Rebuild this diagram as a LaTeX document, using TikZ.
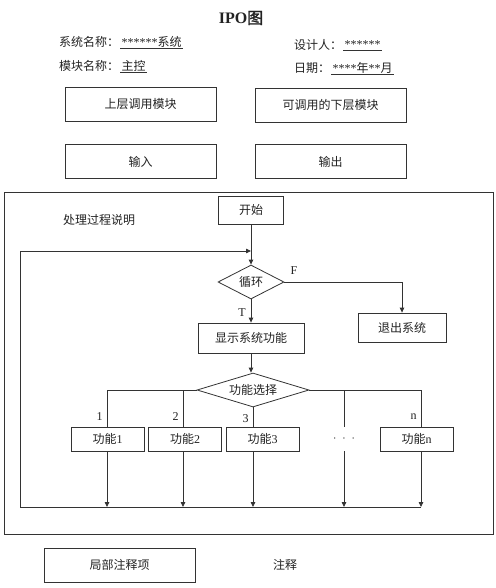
\documentclass[tikz,border=0pt]{standalone}
\usepackage{fontspec}
\setmainfont{Liberation Serif}
\newfontfamily\zhfont[AutoFakeBold=2]{Noto Sans CJK SC}
\usetikzlibrary{arrows.meta,positioning,shapes.geometric}
\newcommand{\zh}[1]{{\zhfont #1}}
\definecolor{cLine}{HTML}{333333}
\definecolor{cText}{HTML}{222222}
\tikzset{
  txt/.style={font=\fontsize{12}{14}\selectfont, text=cText, inner sep=1pt},
  rbox/.style={txt, draw=cLine, line width=0.8pt, minimum width=151pt, minimum height=34pt},
  fbox/.style={txt, draw=cLine, line width=0.8pt, minimum width=73pt, minimum height=24pt},
  cond/.style={txt, diamond, draw=cLine, line width=0.8pt, inner sep=0pt},
  uline/.style={draw=cLine, line width=0.6pt},
  link/.style={draw=cLine, line width=0.8pt},
  flow/.style={link, -{Triangle[length=5pt, width=4.5pt]}},
  tag/.style={txt, inner sep=2pt},
}

\begin{document}
\begin{tikzpicture}[x=1pt, y=-1pt]
    \useasboundingbox (0,0) rectangle (495,588);
    % --- header ---
    \node[txt, font=\fontsize{16}{18}\selectfont\bfseries] (title) at (241,18) {IPO\zh{\bfseries 图}};
    \node[txt, anchor=west] (sysl) at (58,42) {\zh{系统名称：}};
    \node[txt, right=0pt of sysl] (sysv) {******\zh{系统}};
    \node[txt, anchor=west] (modl) at (58,66) {\zh{模块名称：}};
    \node[txt, right=0pt of modl] (modv) {\zh{主控}};
    \node[txt, anchor=west] (desl) at (293,45) {\zh{设计人：}};
    \node[txt, right=0pt of desl] (desv) {******};
    \node[txt, anchor=west] (datl) at (293,68) {\zh{日期：}};
    \node[txt, right=0pt of datl] (datv) {****\zh{年}**\zh{月}};
    \foreach \v in {sysv,modv,desv,datv}
      \draw[uline] (\v.south west) -- (\v.south east);
    % --- interface boxes ---
    \node[rbox] (up) at (140.5,104) {\zh{上层调用模块}};
    \node[rbox] (down) at (330.5,105) {\zh{可调用的下层模块}};
    \node[rbox] (in) at (140.5,161.5) {\zh{输入}};
    \node[rbox] (out) at (330.5,161.5) {\zh{输出}};
    % --- process frame ---
    \draw[link] (4,192) rectangle (493,534);
    \node[txt, anchor=west] (proc) at (62,220) {\zh{处理过程说明}};
    \node[fbox, minimum width=65pt, minimum height=28pt] (start) at (251,210) {\zh{开始}};
    \node[cond, aspect=1.94, minimum width=66pt, minimum height=34pt] (loop) at (251,282) {\zh{循环}};
    \node[fbox, minimum width=106pt, minimum height=30pt] (show) at (251,338) {\zh{显示系统功能}};
    \node[fbox, minimum width=88pt, minimum height=29pt] (exit) at (402,327.5) {\zh{退出系统}};
    \node[cond, aspect=3.3, minimum width=112pt, minimum height=34pt] (sel) at (253,390) {\zh{功能选择}};
    \node[fbox] (f1) at (107.5,439) {\zh{功能}1};
    \node[fbox] (f2) at (185,439) {\zh{功能}2};
    \node[fbox] (f3) at (262.5,439) {\zh{功能}3};
    \node[txt, minimum height=24pt] (dots) at (344,439) {$\cdot\;\cdot\;\cdot$};
    \node[fbox] (fn) at (416.5,439) {\zh{功能}n};
    % columns and return path
    \coordinate (c1) at (107,0);
    \coordinate (c2) at (183,0);
    \coordinate (c3) at (253,0);
    \coordinate (c4) at (344,0);
    \coordinate (c5) at (421,0);
    \coordinate (botL) at (20,507);
    \coordinate (back) at (251,251);
    % --- connectors ---
    \draw[flow] (start) -- (loop);
    \draw[flow] (loop) -- node[tag, pos=0.55, left=3pt]{T} (show);
    \draw[flow] (loop.east) -| (exit.north);
    \node[tag] (flab) at (294,271) {F};
    \draw[flow] (show.south) -- (show.south |- sel.north);
    \draw[link] (sel.west) -| node[tag, pos=0.86, left=2pt]{1} (f1.north -| c1);
    \draw[link] (c2 |- sel.west) -- node[tag, pos=0.73, left=2pt]{2} (f2.north -| c2);
    \draw[link] (sel.south) -- node[tag, pos=0.6, left=2pt]{3} (f3.north -| c3);
    \draw[link] (sel.east) -| node[tag, pos=0.86, left=2pt]{n} (fn.north -| c5);
    \draw[link] (c4 |- sel.east) -- (dots.north -| c4);
    \draw[flow] (f1.south -| c1) -- (c1 |- botL);
    \draw[flow] (f2.south -| c2) -- (c2 |- botL);
    \draw[flow] (f3.south -| c3) -- (c3 |- botL);
    \draw[flow] (dots.south -| c4) -- (c4 |- botL);
    \draw[flow] (fn.south -| c5) -- (c5 |- botL);
    \draw[flow] (c5 |- botL) -- (botL) |- (back);
    % --- note ---
    \node[rbox] (note) at (119.5,565) {\zh{局部注释项}};
    \node[txt] (notet) at (285,565) {\zh{注释}};
\end{tikzpicture}
\end{document}
